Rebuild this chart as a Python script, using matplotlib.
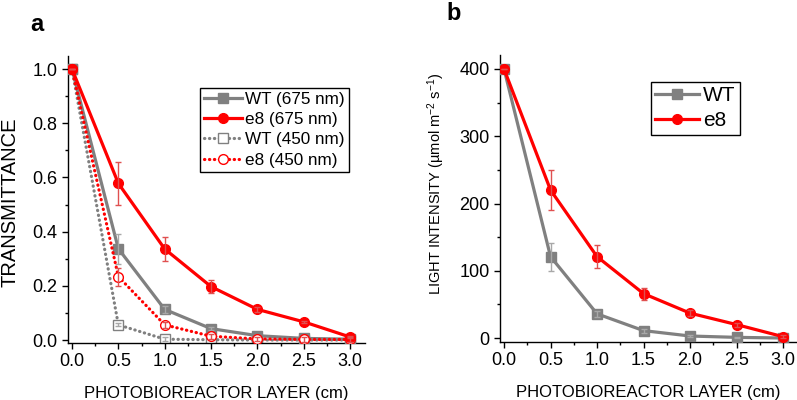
import numpy as np
import matplotlib
matplotlib.use("Agg")
import matplotlib.pyplot as plt
from matplotlib.ticker import MultipleLocator

plt.rcParams['font.family'] = ['Liberation Sans', 'DejaVu Sans']
plt.rcParams['mathtext.fontset'] = 'custom'
plt.rcParams['mathtext.rm'] = 'Liberation Sans'
plt.rcParams['mathtext.default'] = 'regular'

# photobioreactor layer (cm)
layer = [0.0, 0.5, 1.0, 1.5, 2.0, 2.5, 3.0]

# panel a: transmittance
wt_675 = [1.0, 0.337, 0.113, 0.042, 0.016, 0.006, 0.003]
wt_675_err = [0, 0.055, 0.012, 0.005, 0.004, 0.002, 0.001]
e8_675 = [1.0, 0.578, 0.336, 0.197, 0.113, 0.067, 0.011]
e8_675_err = [0, 0.078, 0.045, 0.025, 0.008, 0.005, 0.003]
wt_450 = [1.0, 0.056, 0.003, 0.001, 0.0, 0.0, 0.0]
wt_450_err = [0, 0.005, 0.008, 0, 0, 0, 0]
e8_450 = [1.0, 0.234, 0.056, 0.014, 0.004, 0.002, 0.002]
e8_450_err = [0, 0.033, 0.010, 0.010, 0.008, 0.008, 0.008]

# panel b: light intensity
wt_light = [400, 121, 36, 11, 3, 1, 0]
wt_light_err = [0, 21, 4, 3, 2, 1, 0]
e8_light = [400, 220, 121, 66, 37, 20, 2]
e8_light_err = [0, 30, 17, 9, 4, 3, 2]

RED = '#ff0000'
GREY = '#808080'
RED_ERR = '#e05050'
GREY_ERR = '#a8a8a8'
DOT = (0, (0.1, 1.45))


def series(ax, x, y, err, color, ecolor, marker, filled, ls, label, z):
    ax.errorbar(x, y, yerr=err, fmt='none', ecolor=ecolor, elinewidth=1.0,
                capsize=2.5, capthick=1.0, zorder=z + 1)
    line, = ax.plot(x, y, color=color, lw=2.3, ls=ls, marker=marker, ms=7 if marker == 'o' else 6.5,
                    mfc=color if filled else 'white', mec=color, mew=1.0,
                    dash_capstyle='round', label=label, zorder=z)
    return line


def style_axes(ax):
    for s in ['top', 'right']:
        ax.spines[s].set_visible(False)
    for s in ['left', 'bottom']:
        ax.spines[s].set_linewidth(1.0)
    ax.xaxis.set_major_locator(MultipleLocator(0.5))
    ax.xaxis.set_minor_locator(MultipleLocator(0.25))
    ax.tick_params(which='major', direction='out', length=4, width=1.0, labelsize=13)
    ax.tick_params(which='minor', direction='out', length=2.5, width=1.0)
    ax.set_xlabel('PHOTOBIOREACTOR LAYER (cm)', fontsize=12, labelpad=11)


fig = plt.figure(figsize=(7.97, 4.0), dpi=100)

# panel a
ax1 = fig.add_axes([0.0853, 0.1425, 0.3727, 0.7175])
series(ax1, layer, wt_675, wt_675_err, GREY, GREY_ERR, 's', True, '-', 'WT (675 nm)', 3)
series(ax1, layer, e8_675, e8_675_err, RED, RED_ERR, 'o', True, '-', 'e8 (675 nm)', 5)
series(ax1, layer, wt_450, wt_450_err, GREY, GREY_ERR, 's', False, DOT, 'WT (450 nm)', 2)
series(ax1, layer, e8_450, e8_450_err, RED, RED_ERR, 'o', False, DOT, 'e8 (450 nm)', 4)
ax1.set_xlim(-0.043, 3.16)
ax1.set_ylim(-0.011, 1.048)
ax1.yaxis.set_major_locator(MultipleLocator(0.2))
ax1.yaxis.set_minor_locator(MultipleLocator(0.1))
ax1.yaxis.set_major_formatter(plt.FormatStrFormatter('%.1f'))
ax1.xaxis.set_major_formatter(plt.FormatStrFormatter('%.1f'))
style_axes(ax1)
ax1.set_ylabel('TRANSMITTANCE', fontsize=14.5)
ax1.yaxis.set_label_coords(-0.163, 0.49)
leg1 = ax1.legend(loc='upper left', bbox_to_anchor=(0.444, 0.889), borderaxespad=0,
                  fontsize=12.3, frameon=True, fancybox=False, edgecolor='black',
                  handlelength=2.2, handletextpad=0.2, labelspacing=0.3,
                  borderpad=0.25, framealpha=1)
leg1.get_frame().set_linewidth(1.0)
fig.text(0.0376, 0.923, 'a', fontsize=17, fontweight='bold', ha='left', va='baseline')

# panel b
ax2 = fig.add_axes([0.6274, 0.145, 0.3726, 0.7175])
series(ax2, layer, wt_light, wt_light_err, GREY, GREY_ERR, 's', True, '-', 'WT', 3)
series(ax2, layer, e8_light, e8_light_err, RED, RED_ERR, 'o', True, '-', 'e8', 5)
ax2.set_xlim(-0.043, 3.15)
ax2.set_ylim(-5.9, 420.8)
ax2.yaxis.set_major_locator(MultipleLocator(100))
ax2.yaxis.set_minor_locator(MultipleLocator(50))
ax2.xaxis.set_major_formatter(plt.FormatStrFormatter('%.1f'))
style_axes(ax2)
ax2.set_ylabel('LIGHT INTENSITY (µmol m$^{-2}$ s$^{-1}$)', fontsize=10.5)
ax2.yaxis.set_label_coords(-0.18, 0.55)
leg2 = ax2.legend(loc='upper left', bbox_to_anchor=(0.508, 0.906), borderaxespad=0,
                  fontsize=15, frameon=True, fancybox=False, edgecolor='black',
                  handlelength=2.1, handletextpad=0.2, labelspacing=0.3,
                  borderpad=0.2, framealpha=1)
leg2.get_frame().set_linewidth(1.0)
fig.text(0.5605, 0.95, 'b', fontsize=17, fontweight='bold', ha='left', va='baseline')

fig.savefig('out.png', dpi=100)
